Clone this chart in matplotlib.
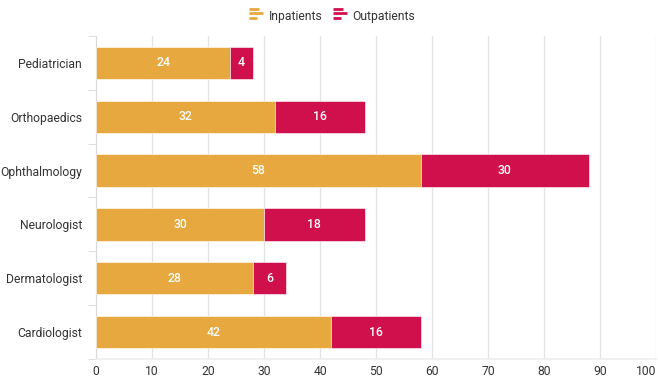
import numpy as np
import matplotlib.pyplot as plt
from matplotlib.legend_handler import HandlerBase
from matplotlib.lines import Line2D

plt.rcParams['font.family'] = ['Roboto', 'DejaVu Sans']

departments = ['Pediatrician', 'Orthopaedics', 'Ophthalmology', 'Neurologist', 'Dermatologist', 'Cardiologist']
inpatients = [24, 32, 58, 30, 28, 42]
outpatients = [4, 16, 30, 18, 6, 16]

c_in = '#E8A840'
c_out = '#D0104C'


class BarsIcon(HandlerBase):
    # small "three bars" icon used in the legend
    def create_artists(self, legend, orig_handle, xd, yd, w, h, fontsize, trans):
        color = orig_handle.get_color()
        arts = []
        for frac, fy in zip([0.75, 1.0, 0.55], [0.95, 0.5, 0.05]):
            yy = yd + h * fy
            ln = Line2D([xd, xd + w * frac], [yy, yy], color=color, lw=2.0,
                        solid_capstyle='butt', transform=trans)
            arts.append(ln)
        return arts


fig = plt.figure(figsize=(6.58, 3.78), dpi=100)
ax = fig.add_axes([0.1459, 0.0503, 0.8511, 0.8545])

y = np.arange(len(departments))
ax.barh(y, inpatients, height=0.6, color=c_in, edgecolor='white', linewidth=0.4, zorder=3)
ax.barh(y, outpatients, left=inpatients, height=0.6, color=c_out, edgecolor='white', linewidth=0.4, zorder=3)

for i in range(len(departments)):
    ax.text(inpatients[i] / 2, y[i], str(inpatients[i]), color='white', fontsize=8.8,
            fontweight='medium', ha='center', va='center', zorder=4)
    ax.text(inpatients[i] + outpatients[i] / 2, y[i], str(outpatients[i]), color='white',
            fontsize=8.8, fontweight='medium', ha='center', va='center', zorder=4)

ax.set_xlim(0, 100)
ax.set_ylim(len(departments) - 0.5, -0.5)
ax.set_xticks(np.arange(0, 101, 10))
ax.set_yticks(y)
ax.set_yticklabels(departments)
ax.set_yticks(np.arange(-0.5, len(departments), 1), minor=True)

ax.grid(axis='x', color='#e3e3e3', lw=0.9, zorder=0)
for s in ['top', 'right']:
    ax.spines[s].set_visible(False)
ax.spines['left'].set_color('#d9d9d9')
ax.spines['bottom'].set_color('#eeeeee')
ax.spines['bottom'].set_linewidth(1.2)
ax.tick_params(axis='y', which='major', length=0, pad=10, labelsize=8.7, labelcolor='#333333')
ax.tick_params(axis='y', which='minor', length=6, color='#d9d9d9')
ax.tick_params(axis='x', length=0, pad=4.5, labelsize=8.7, labelcolor='#333333')
# keep the last x label inside the canvas
ax.get_xticklabels()[-1].set_horizontalalignment('right')

h_in = Line2D([], [], color=c_in)
h_out = Line2D([], [], color=c_out)
fig.legend([h_in, h_out], ['Inpatients', 'Outpatients'], loc='center', bbox_to_anchor=(0.505, 0.956),
           ncol=2, frameon=False, fontsize=8.7, handler_map={Line2D: BarsIcon()},
           handlelength=1.1, handleheight=1.0, handletextpad=0.5, columnspacing=0.9,
           labelcolor='#333333')

fig.savefig('out.png', dpi=100)
